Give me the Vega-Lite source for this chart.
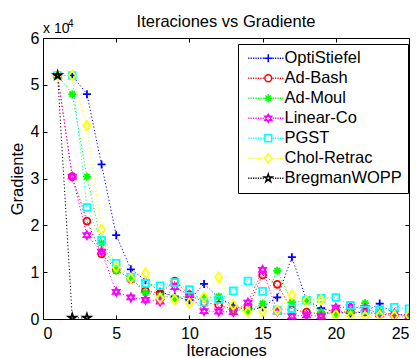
{
  "$schema": "https://vega.github.io/schema/vega-lite/v6.json",
  "width": 366,
  "height": 281,
  "autosize": "none",
  "padding": {"left": 43, "top": 38, "right": 10, "bottom": 39},
  "background": "white",
  "config": {
    "font": "Liberation Sans",
    "view": {"stroke": "black", "strokeWidth": 1},
    "axis": {"grid": false, "domainColor": "black", "tickColor": "black", "labelColor": "black", "titleColor": "black", "labelFont": "Liberation Sans", "titleFont": "Liberation Sans", "labelFontSize": 16, "titleFontSize": 16.5, "titleFontWeight": "normal", "tickSize": -4, "labelPadding": 8}
  },
  "title": {"text": "Iteraciones vs Gradiente", "fontSize": 16.5, "fontWeight": "normal", "font": "Liberation Sans", "color": "black", "anchor": "middle", "frame": "group", "baseline": "alphabetic", "offset": -24},
  "datasets": {
    "conv": [
      {"s": "OptiStiefel", "it": 1, "g": 52000}, {"s": "OptiStiefel", "it": 2, "g": 52000}, {"s": "OptiStiefel", "it": 3, "g": 48000}, {"s": "OptiStiefel", "it": 4, "g": 33000}, {"s": "OptiStiefel", "it": 5, "g": 17900}, {"s": "OptiStiefel", "it": 6, "g": 10600}, {"s": "OptiStiefel", "it": 7, "g": 8300}, {"s": "OptiStiefel", "it": 8, "g": 5800}, {"s": "OptiStiefel", "it": 9, "g": 4800}, {"s": "OptiStiefel", "it": 10, "g": 4000}, {"s": "OptiStiefel", "it": 11, "g": 7500}, {"s": "OptiStiefel", "it": 12, "g": 4500}, {"s": "OptiStiefel", "it": 13, "g": 2900}, {"s": "OptiStiefel", "it": 14, "g": 1800}, {"s": "OptiStiefel", "it": 15, "g": 2500}, {"s": "OptiStiefel", "it": 16, "g": 4600}, {"s": "OptiStiefel", "it": 17, "g": 13200}, {"s": "OptiStiefel", "it": 18, "g": 4000}, {"s": "OptiStiefel", "it": 19, "g": 2300}, {"s": "OptiStiefel", "it": 20, "g": 1500}, {"s": "OptiStiefel", "it": 21, "g": 1200}, {"s": "OptiStiefel", "it": 22, "g": 1500}, {"s": "OptiStiefel", "it": 23, "g": 3300}, {"s": "OptiStiefel", "it": 24, "g": 1000}, {"s": "OptiStiefel", "it": 25, "g": 800},
      {"s": "Ad-Bash", "it": 1, "g": 52000}, {"s": "Ad-Bash", "it": 2, "g": 30400}, {"s": "Ad-Bash", "it": 3, "g": 20900}, {"s": "Ad-Bash", "it": 4, "g": 13900}, {"s": "Ad-Bash", "it": 5, "g": 10500}, {"s": "Ad-Bash", "it": 6, "g": 8500}, {"s": "Ad-Bash", "it": 7, "g": 6000}, {"s": "Ad-Bash", "it": 8, "g": 5500}, {"s": "Ad-Bash", "it": 9, "g": 8100}, {"s": "Ad-Bash", "it": 10, "g": 5200}, {"s": "Ad-Bash", "it": 11, "g": 3500}, {"s": "Ad-Bash", "it": 12, "g": 3000}, {"s": "Ad-Bash", "it": 13, "g": 2000}, {"s": "Ad-Bash", "it": 14, "g": 2500}, {"s": "Ad-Bash", "it": 15, "g": 9400}, {"s": "Ad-Bash", "it": 16, "g": 7400}, {"s": "Ad-Bash", "it": 17, "g": 2000}, {"s": "Ad-Bash", "it": 18, "g": 1500}, {"s": "Ad-Bash", "it": 19, "g": 1000}, {"s": "Ad-Bash", "it": 20, "g": 1500}, {"s": "Ad-Bash", "it": 21, "g": 1500}, {"s": "Ad-Bash", "it": 22, "g": 1500}, {"s": "Ad-Bash", "it": 23, "g": 1000}, {"s": "Ad-Bash", "it": 24, "g": 800}, {"s": "Ad-Bash", "it": 25, "g": 500},
      {"s": "Ad-Moul", "it": 1, "g": 52000}, {"s": "Ad-Moul", "it": 2, "g": 48000}, {"s": "Ad-Moul", "it": 3, "g": 30400}, {"s": "Ad-Moul", "it": 4, "g": 16200}, {"s": "Ad-Moul", "it": 5, "g": 10300}, {"s": "Ad-Moul", "it": 6, "g": 8700}, {"s": "Ad-Moul", "it": 7, "g": 5600}, {"s": "Ad-Moul", "it": 8, "g": 5000}, {"s": "Ad-Moul", "it": 9, "g": 4500}, {"s": "Ad-Moul", "it": 10, "g": 5000}, {"s": "Ad-Moul", "it": 11, "g": 4500}, {"s": "Ad-Moul", "it": 12, "g": 4800}, {"s": "Ad-Moul", "it": 13, "g": 2000}, {"s": "Ad-Moul", "it": 14, "g": 1800}, {"s": "Ad-Moul", "it": 15, "g": 3300}, {"s": "Ad-Moul", "it": 16, "g": 10300}, {"s": "Ad-Moul", "it": 17, "g": 3600}, {"s": "Ad-Moul", "it": 18, "g": 3800}, {"s": "Ad-Moul", "it": 19, "g": 1500}, {"s": "Ad-Moul", "it": 20, "g": 1000}, {"s": "Ad-Moul", "it": 21, "g": 1500}, {"s": "Ad-Moul", "it": 22, "g": 3400}, {"s": "Ad-Moul", "it": 23, "g": 1500}, {"s": "Ad-Moul", "it": 24, "g": 1000}, {"s": "Ad-Moul", "it": 25, "g": 500},
      {"s": "Linear-Co", "it": 1, "g": 52000}, {"s": "Linear-Co", "it": 2, "g": 30400}, {"s": "Linear-Co", "it": 3, "g": 17900}, {"s": "Linear-Co", "it": 4, "g": 14400}, {"s": "Linear-Co", "it": 5, "g": 5800}, {"s": "Linear-Co", "it": 6, "g": 4600}, {"s": "Linear-Co", "it": 7, "g": 4100}, {"s": "Linear-Co", "it": 8, "g": 3700}, {"s": "Linear-Co", "it": 9, "g": 6800}, {"s": "Linear-Co", "it": 10, "g": 5100}, {"s": "Linear-Co", "it": 11, "g": 1700}, {"s": "Linear-Co", "it": 12, "g": 1600}, {"s": "Linear-Co", "it": 13, "g": 1500}, {"s": "Linear-Co", "it": 14, "g": 3500}, {"s": "Linear-Co", "it": 15, "g": 10500}, {"s": "Linear-Co", "it": 16, "g": 1600}, {"s": "Linear-Co", "it": 17, "g": 600}, {"s": "Linear-Co", "it": 18, "g": 800}, {"s": "Linear-Co", "it": 19, "g": 600}, {"s": "Linear-Co", "it": 20, "g": 2400}, {"s": "Linear-Co", "it": 21, "g": 2600}, {"s": "Linear-Co", "it": 22, "g": 2300}, {"s": "Linear-Co", "it": 23, "g": 1000}, {"s": "Linear-Co", "it": 24, "g": 1200}, {"s": "Linear-Co", "it": 25, "g": 500},
      {"s": "PGST", "it": 1, "g": 52000}, {"s": "PGST", "it": 2, "g": 52000}, {"s": "PGST", "it": 3, "g": 23800}, {"s": "PGST", "it": 4, "g": 16800}, {"s": "PGST", "it": 5, "g": 11900}, {"s": "PGST", "it": 6, "g": 8900}, {"s": "PGST", "it": 7, "g": 7600}, {"s": "PGST", "it": 8, "g": 7100}, {"s": "PGST", "it": 9, "g": 7800}, {"s": "PGST", "it": 10, "g": 6300}, {"s": "PGST", "it": 11, "g": 3600}, {"s": "PGST", "it": 12, "g": 4100}, {"s": "PGST", "it": 13, "g": 6000}, {"s": "PGST", "it": 14, "g": 8100}, {"s": "PGST", "it": 15, "g": 5900}, {"s": "PGST", "it": 16, "g": 1900}, {"s": "PGST", "it": 17, "g": 2200}, {"s": "PGST", "it": 18, "g": 4000}, {"s": "PGST", "it": 19, "g": 4400}, {"s": "PGST", "it": 20, "g": 4600}, {"s": "PGST", "it": 21, "g": 2900}, {"s": "PGST", "it": 22, "g": 1900}, {"s": "PGST", "it": 23, "g": 1900}, {"s": "PGST", "it": 24, "g": 2500}, {"s": "PGST", "it": 25, "g": 2200},
      {"s": "Chol-Retrac", "it": 1, "g": 52000}, {"s": "Chol-Retrac", "it": 2, "g": 52000}, {"s": "Chol-Retrac", "it": 3, "g": 41300}, {"s": "Chol-Retrac", "it": 4, "g": 19100}, {"s": "Chol-Retrac", "it": 5, "g": 11000}, {"s": "Chol-Retrac", "it": 6, "g": 8700}, {"s": "Chol-Retrac", "it": 7, "g": 9800}, {"s": "Chol-Retrac", "it": 8, "g": 4400}, {"s": "Chol-Retrac", "it": 9, "g": 4100}, {"s": "Chol-Retrac", "it": 10, "g": 3400}, {"s": "Chol-Retrac", "it": 11, "g": 4700}, {"s": "Chol-Retrac", "it": 12, "g": 8900}, {"s": "Chol-Retrac", "it": 13, "g": 3000}, {"s": "Chol-Retrac", "it": 14, "g": 1500}, {"s": "Chol-Retrac", "it": 15, "g": 1600}, {"s": "Chol-Retrac", "it": 16, "g": 1900}, {"s": "Chol-Retrac", "it": 17, "g": 5100}, {"s": "Chol-Retrac", "it": 18, "g": 3900}, {"s": "Chol-Retrac", "it": 19, "g": 4100}, {"s": "Chol-Retrac", "it": 20, "g": 900}, {"s": "Chol-Retrac", "it": 21, "g": 600}, {"s": "Chol-Retrac", "it": 22, "g": 600}, {"s": "Chol-Retrac", "it": 23, "g": 800}, {"s": "Chol-Retrac", "it": 24, "g": 700}, {"s": "Chol-Retrac", "it": 25, "g": 800},
      {"s": "BregmanWOPP", "it": 1, "g": 52000}, {"s": "BregmanWOPP", "it": 2, "g": 250}, {"s": "BregmanWOPP", "it": 3, "g": 250}
    ],
    "mult": [{"it": 0, "g": 60000, "t": "x 10", "e": "4"}]
  },
  "resolve": {"scale": {"color": "independent", "shape": "independent"}, "axis": {"x": "independent", "y": "independent"}},
  "layer": [
    {
      "data": {"name": "conv"},
      "mark": {"type": "line", "strokeWidth": 1, "strokeDash": [1.2, 2.2], "clip": true},
      "encoding": {
        "x": {"field": "it", "type": "quantitative", "scale": {"domain": [0, 25], "nice": false, "zero": false}, "axis": {"title": "Iteraciones", "values": [0, 5, 10, 15, 20, 25], "titlePadding": 1, "labelPadding": 10}},
        "y": {"field": "g", "type": "quantitative", "scale": {"domain": [0, 60000], "nice": false}, "axis": {"title": "Gradiente", "values": [0, 10000, 20000, 30000, 40000, 50000, 60000], "labelExpr": "datum.value / 10000", "titlePadding": 5}},
        "color": {"field": "s", "type": "nominal", "legend": null, "scale": {"domain": ["OptiStiefel", "Ad-Bash", "Ad-Moul", "Linear-Co", "PGST", "Chol-Retrac", "BregmanWOPP"], "range": ["#0000ff", "#ff0000", "#00ff00", "#ff00ff", "#00ffff", "#ffff00", "#000000"]}},
        "order": {"field": "it", "type": "quantitative"}
      }
    },
    {
      "data": {"name": "conv"},
      "mark": {"type": "point", "filled": false, "size": 64, "strokeWidth": 1.8, "opacity": 1, "clip": true},
      "encoding": {
        "x": {"field": "it", "type": "quantitative", "axis": null},
        "y": {"field": "g", "type": "quantitative", "axis": null},
        "color": {"field": "s", "type": "nominal", "legend": null, "scale": {"domain": ["OptiStiefel", "Ad-Bash", "Ad-Moul", "Linear-Co", "PGST", "Chol-Retrac", "BregmanWOPP"], "range": ["#0000ff", "#ff0000", "#00ff00", "#ff00ff", "#00ffff", "#ffff00", "#000000"]}},
        "shape": {"field": "s", "type": "nominal", "legend": null, "scale": {"domain": ["OptiStiefel", "Ad-Bash", "Ad-Moul", "Linear-Co", "PGST", "Chol-Retrac", "BregmanWOPP"], "range": ["M-1,0L1,0M0,-1L0,1", "M-0.85,0A0.85,0.85,0,1,1,0.85,0A0.85,0.85,0,1,1,-0.85,0Z", "M-1,0L1,0M0,-1L0,1M-0.7,-0.7L0.7,0.7M-0.7,0.7L0.7,-0.7", "M0,-1L0.866,0.5L-0.866,0.5ZM0,1L0.866,-0.5L-0.866,-0.5Z", "M-0.85,-0.85L0.85,-0.85L0.85,0.85L-0.85,0.85Z", "M0,-1.2L0.85,0L0,1.2L-0.85,0Z", "M0,-1L0.225,-0.309L0.951,-0.309L0.363,0.118L0.588,0.809L0,0.382L-0.588,0.809L-0.363,0.118L-0.951,-0.309L-0.225,-0.309Z"]}}
      }
    },
    {
      "data": {"name": "conv"},
      "mark": {"type": "point", "filled": false, "size": 64, "strokeWidth": 1.5, "opacity": 0},
      "encoding": {
        "x": {"field": "it", "type": "quantitative", "axis": null},
        "y": {"field": "g", "type": "quantitative", "axis": null},
        "color": {"field": "s", "type": "nominal", "scale": {"domain": ["OptiStiefel", "Ad-Bash", "Ad-Moul", "Linear-Co", "PGST", "Chol-Retrac", "BregmanWOPP"], "range": ["#0000ff", "#ff0000", "#00ff00", "#ff00ff", "#00ffff", "#ffff00", "#000000"]}, "legend": {
          "title": null, "orient": "none", "legendX": 195, "legendY": 6, "direction": "vertical",
          "strokeColor": "black", "fillColor": "white", "padding": 6, "labelFontSize": 16.5, "labelColor": "black", "labelFont": "Liberation Sans",
          "symbolSize": 64, "symbolStrokeWidth": 1.5, "symbolOpacity": 1, "symbolOffset": 16, "labelOffset": 8, "rowPadding": 3
        }},
        "shape": {"field": "s", "type": "nominal", "legend": {
          "title": null, "orient": "none", "legendX": 195, "legendY": 6, "direction": "vertical",
          "strokeColor": "black", "fillColor": "white", "padding": 6, "labelFontSize": 16.5, "labelColor": "black", "labelFont": "Liberation Sans",
          "symbolSize": 64, "symbolStrokeWidth": 1.5, "symbolOpacity": 1, "symbolOffset": 16, "labelOffset": 8, "rowPadding": 3
        }, "scale": {"domain": ["OptiStiefel", "Ad-Bash", "Ad-Moul", "Linear-Co", "PGST", "Chol-Retrac", "BregmanWOPP"], "range": [
          "M-1,0L1,0M0,-1L0,1M-5,0L-4.7,0M-4.4,0L-4.1,0M-3.8,0L-3.5,0M-3.2,0L-2.9,0M-2.6,0L-2.3,0M-2,0L-1.7,0M-1.4,0L-1.1,0M1.1,0L1.4,0M1.7,0L2,0M2.3,0L2.6,0M2.9,0L3.2,0M3.5,0L3.8,0",
          "M-0.85,0A0.85,0.85,0,1,1,0.85,0A0.85,0.85,0,1,1,-0.85,0ZM-5,0L-4.7,0M-4.4,0L-4.1,0M-3.8,0L-3.5,0M-3.2,0L-2.9,0M-2.6,0L-2.3,0M-2,0L-1.7,0M-1.4,0L-1.1,0M1.1,0L1.4,0M1.7,0L2,0M2.3,0L2.6,0M2.9,0L3.2,0M3.5,0L3.8,0",
          "M-1,0L1,0M0,-1L0,1M-0.7,-0.7L0.7,0.7M-0.7,0.7L0.7,-0.7M-5,0L-4.7,0M-4.4,0L-4.1,0M-3.8,0L-3.5,0M-3.2,0L-2.9,0M-2.6,0L-2.3,0M-2,0L-1.7,0M-1.4,0L-1.1,0M1.1,0L1.4,0M1.7,0L2,0M2.3,0L2.6,0M2.9,0L3.2,0M3.5,0L3.8,0",
          "M0,-1L0.866,0.5L-0.866,0.5ZM0,1L0.866,-0.5L-0.866,-0.5ZM-5,0L-4.7,0M-4.4,0L-4.1,0M-3.8,0L-3.5,0M-3.2,0L-2.9,0M-2.6,0L-2.3,0M-2,0L-1.7,0M-1.4,0L-1.1,0M1.1,0L1.4,0M1.7,0L2,0M2.3,0L2.6,0M2.9,0L3.2,0M3.5,0L3.8,0",
          "M-0.85,-0.85L0.85,-0.85L0.85,0.85L-0.85,0.85ZM-5,0L-4.7,0M-4.4,0L-4.1,0M-3.8,0L-3.5,0M-3.2,0L-2.9,0M-2.6,0L-2.3,0M-2,0L-1.7,0M-1.4,0L-1.1,0M1.1,0L1.4,0M1.7,0L2,0M2.3,0L2.6,0M2.9,0L3.2,0M3.5,0L3.8,0",
          "M0,-1.2L0.85,0L0,1.2L-0.85,0ZM-5,0L-4.7,0M-4.4,0L-4.1,0M-3.8,0L-3.5,0M-3.2,0L-2.9,0M-2.6,0L-2.3,0M-2,0L-1.7,0M-1.4,0L-1.1,0M1.1,0L1.4,0M1.7,0L2,0M2.3,0L2.6,0M2.9,0L3.2,0M3.5,0L3.8,0",
          "M0,-1L0.225,-0.309L0.951,-0.309L0.363,0.118L0.588,0.809L0,0.382L-0.588,0.809L-0.363,0.118L-0.951,-0.309L-0.225,-0.309ZM-5,0L-4.7,0M-4.4,0L-4.1,0M-3.8,0L-3.5,0M-3.2,0L-2.9,0M-2.6,0L-2.3,0M-2,0L-1.7,0M-1.4,0L-1.1,0M1.1,0L1.4,0M1.7,0L2,0M2.3,0L2.6,0M2.9,0L3.2,0M3.5,0L3.8,0"
        ]}}
      }
    },
    {
      "data": {"name": "mult"},
      "mark": {"type": "text", "align": "left", "baseline": "alphabetic", "fontSize": 14, "dx": 0, "dy": -5, "color": "black"},
      "encoding": {
        "x": {"field": "it", "type": "quantitative", "axis": null},
        "y": {"field": "g", "type": "quantitative", "axis": null},
        "text": {"field": "t"}
      }
    },
    {
      "data": {"name": "mult"},
      "mark": {"type": "text", "align": "left", "baseline": "alphabetic", "fontSize": 10, "dx": 25, "dy": -11, "color": "black"},
      "encoding": {
        "x": {"field": "it", "type": "quantitative", "axis": null},
        "y": {"field": "g", "type": "quantitative", "axis": null},
        "text": {"field": "e"}
      }
    },
    {
      "data": {"name": "mult"},
      "mark": {"type": "point", "opacity": 0},
      "encoding": {
        "x": {"field": "it", "type": "quantitative", "axis": {"orient": "top", "values": [0, 5, 10, 15, 20, 25], "labels": false, "title": null, "domain": false}},
        "y": {"field": "g", "type": "quantitative", "axis": {"orient": "right", "values": [0, 10000, 20000, 30000, 40000, 50000, 60000], "labels": false, "title": null, "domain": false}}
      }
    }
  ]
}
